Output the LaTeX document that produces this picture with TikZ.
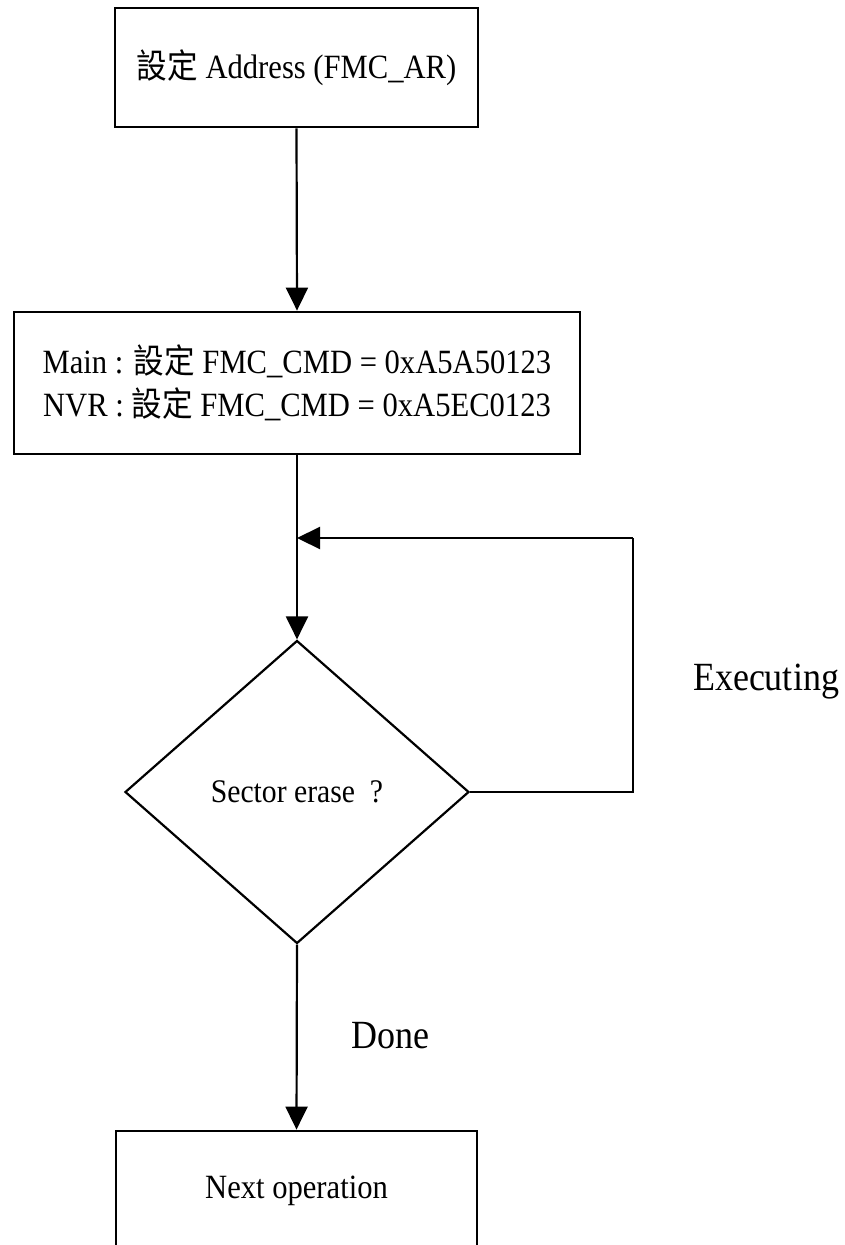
\documentclass[tikz,border=0pt]{standalone}
\usepackage{fontspec}
\setmainfont{Liberation Serif}[FakeStretch=0.9]
\newfontfamily\cjk{Noto Sans CJK TC}[FakeStretch=0.9]
\usetikzlibrary{shapes.geometric,arrows.meta}

\tikzset{
  box/.style={draw, line width=2.8pt, inner sep=0pt, align=center,
    font=\fontsize{34}{43}\selectfont},
  decision/.style={draw, diamond, line width=2.2pt, inner sep=0pt,
    font=\fontsize{33}{36}\selectfont},
  flow/.style={line width=2.2pt, -{Triangle[length=23pt,width=22pt]}},
  plain/.style={line width=2.2pt},
  lbl/.style={inner sep=0pt, anchor=base, font=\fontsize{40}{44}\selectfont},
}

\begin{document}
\begin{tikzpicture}[x=1pt,y=-1pt]
  \useasboundingbox (0,0) rectangle (844,1245);
  \clip (0,0) rectangle (844,1245);
  \fill[white] (0,0) rectangle (844,1245);

  % process steps
  \node[box, minimum width=363pt, minimum height=119pt] (addr) at (296.5,67.5)
    {{\cjk 設定} Address (FMC\_AR)};
  \node[box, minimum width=566pt, minimum height=142pt] (cmd) at (297,383)
    {Main : {\cjk 設定} FMC\_CMD = 0xA5A50123\\NVR : {\cjk 設定} FMC\_CMD = 0xA5EC0123};
  \node[decision, minimum width=344pt, minimum height=303pt] (dec) at (297,792)
    {Sector erase~~?};
  \node[box, minimum width=361pt, minimum height=119pt] (next) at (296.5,1190.5)
    {Next operation};

  % connectors
  \draw[flow] (addr.south) -- (cmd.north);
  \draw[flow] (cmd.south) -- (dec.north);
  \draw[flow] (dec.south) -- (next.north);

  % busy loop back to the check
  \coordinate (loopR) at (633,538);
  \draw[plain] (dec.east) -| (loopR);
  \draw[flow] (loopR) -- (cmd.south |- loopR);

  % branch labels
  \node[lbl] (exec) at (766,690) {Executing};
  \node[lbl] (done) at (390,1048) {Done};
\end{tikzpicture}
\end{document}
